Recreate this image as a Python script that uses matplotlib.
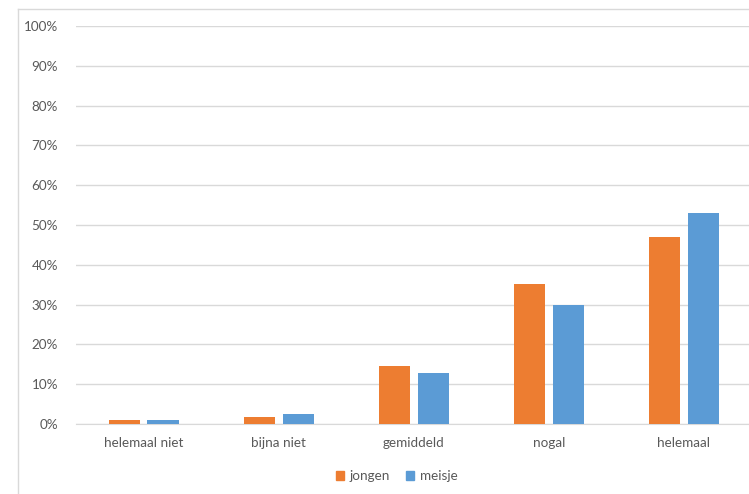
import matplotlib.pyplot as plt
import matplotlib.patches as mpatches
from matplotlib.lines import Line2D
import numpy as np

categories = ['helemaal niet', 'bijna niet', 'gemiddeld', 'nogal', 'helemaal']
jongen = [1.0, 1.7, 14.6, 35.2, 47.1]
meisje = [1.0, 2.6, 12.7, 29.9, 53.0]
yticks = np.arange(0, 101, 10)

plt.rcParams['font.family'] = ['Lato', 'DejaVu Sans']

orange = '#ED7D31'
blue = '#5B9BD5'
txt = '#595959'

fig = plt.figure(figsize=(7.49, 4.94), dpi=100)
# axes in pixel terms: left 76, right 751.5, y0 at 424, 100% at 26
W, H = 749, 494
ax = fig.add_axes([76 / W, (H - 424) / H, (751.5 - 76) / W, (424 - 26) / H])

x = np.arange(len(categories))
w = 0.23
ax.bar(x - 0.144, jongen, width=w, color=orange, label='jongen', zorder=3)
ax.bar(x + 0.144, meisje, width=w, color=blue, label='meisje', zorder=3)

ax.set_xlim(-0.5, 4.5)
ax.set_ylim(0, 100)
ax.set_yticks(yticks)
ax.set_yticklabels([f'{v}%' for v in yticks])
ax.set_xticks(x)
ax.set_xticklabels(categories)
ax.tick_params(axis='both', length=0, labelsize=9.7, colors=txt)
ax.tick_params(axis='y', pad=13)
ax.tick_params(axis='x', pad=9)
ax.grid(axis='y', color='#D9D9D9', linewidth=1, zorder=0)
for s in ['top', 'right', 'left']:
    ax.spines[s].set_visible(False)
ax.spines['bottom'].set_color('#D9D9D9')

# chart frame (left and top visible)
fig.add_artist(Line2D([18 / W, 18 / W], [0, (H - 9) / H], color='#D9D9D9', lw=1))
fig.add_artist(Line2D([18 / W, 1], [(H - 9) / H, (H - 9) / H], color='#D9D9D9', lw=1))

handles = [mpatches.Patch(color=orange, label='jongen'), mpatches.Patch(color=blue, label='meisje')]
fig.legend(handles=handles, loc='center', bbox_to_anchor=(397 / W, (H - 476) / H), ncol=2,
           frameon=False, fontsize=9.7, labelcolor=txt, handlelength=0.6, handleheight=0.6,
           handletextpad=0.4, columnspacing=1.2)

fig.savefig('out.png', dpi=100, facecolor='white')
